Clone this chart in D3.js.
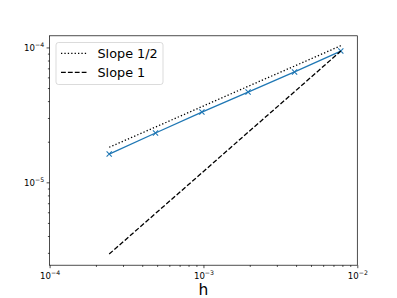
<!DOCTYPE html>
<html>
<head>
<meta charset="utf-8">
<script src="https://cdn.jsdelivr.net/npm/d3@7"></script>
<style>
  body { margin: 0; background: #fff; }
  svg { display: block; }
</style>
</head>
<body>
<div id="chart"></div>
<script>
// step sizes and errors
var hValues = [0.000244, 0.000488, 0.000977, 0.00195, 0.00391, 0.00781];
var errValues = [1.62e-5, 2.32e-5, 3.32e-5, 4.67e-5, 6.58e-5, 9.40e-5];
var slopeHalfValues = [1.82e-5, 2.57e-5, 3.64e-5, 5.15e-5, 7.28e-5, 1.03e-4];
var slopeOneValues = [2.94e-6, 5.88e-6, 1.175e-5, 2.35e-5, 4.70e-5, 9.40e-5];
var legendLabels = ["Slope 1/2", "Slope 1"];
var xMajorExps = [-4, -3, -2];
var yMajorExps = [-5, -4];

var width = 397, height = 298;
var padL = 49.6, padR = 357.3, padT = 35.8, padB = 265.2;

var svg = d3.select("#chart")
  .append("svg")
  .attr("width", width)
  .attr("height", height);

var xScale = d3.scaleLog().domain([1e-4, 1e-2]).range([padL, padR]);
var yScale = d3.scaleLog().domain([2.43e-6, 1.22e-4]).range([padB, padT]);

var tickFont = "'DejaVu Sans', sans-serif";

// minor ticks (2..9 in each decade)
function isMajor(v) {
  var e = Math.log10(v);
  return Math.abs(e - Math.round(e)) < 1e-6;
}
var xMinor = xScale.ticks().filter(function(v) { return !isMajor(v); });
var yMinor = yScale.ticks().filter(function(v) { return !isMajor(v); })
  .filter(function(v) { return v >= 2.43e-6 && v <= 1.22e-4; });

var xMajor = xMajorExps.map(function(e) { return Math.pow(10, e); });
var yMajor = yMajorExps.map(function(e) { return Math.pow(10, e); });

function styleAxis(g) {
  g.select(".domain").remove();
  g.selectAll("line").attr("stroke", "#000").attr("stroke-width", 0.7);
}

svg.append("g")
  .attr("transform", "translate(0," + padB + ")")
  .call(d3.axisBottom(xScale).tickValues(xMinor).tickSize(1.7).tickFormat(""))
  .call(styleAxis);
var xAx = svg.append("g")
  .attr("transform", "translate(0," + padB + ")")
  .call(d3.axisBottom(xScale).tickValues(xMajor).tickSize(3).tickPadding(3).tickFormat(""))
  .call(styleAxis);

svg.append("g")
  .attr("transform", "translate(" + padL + ",0)")
  .call(d3.axisLeft(yScale).tickValues(yMinor).tickSize(1.7).tickFormat(""))
  .call(styleAxis);
var yAx = svg.append("g")
  .attr("transform", "translate(" + padL + ",0)")
  .call(d3.axisLeft(yScale).tickValues(yMajor).tickSize(3).tickPadding(3).tickFormat(""))
  .call(styleAxis);

function powerLabel(text, exp) {
  text.text("")
    .attr("font-family", tickFont)
    .attr("font-size", 8.6)
    .attr("fill", "#000");
  text.append("tspan").text("10");
  text.append("tspan")
    .attr("dy", -3.8)
    .attr("font-size", 6.2)
    .text("\u2212" + Math.abs(exp));
}

xAx.selectAll(".tick").each(function(d, i) {
  var t = d3.select(this).select("text")
    .attr("y", 13.5)
    .attr("dy", null)
    .attr("text-anchor", "middle");
  powerLabel(t, xMajorExps[i]);
});
yAx.selectAll(".tick").each(function(d, i) {
  var t = d3.select(this).select("text")
    .attr("x", -5.5)
    .attr("dy", "0.35em")
    .attr("text-anchor", "end");
  powerLabel(t, yMajorExps[i]);
});

// frame
svg.append("rect")
  .attr("x", padL).attr("y", padT)
  .attr("width", padR - padL).attr("height", padB - padT)
  .attr("fill", "none")
  .attr("stroke", "#000")
  .attr("stroke-width", 0.7);

var line = d3.line()
  .x(function(d) { return xScale(d[0]); })
  .y(function(d) { return yScale(d[1]); });

var plot = svg.append("g");

plot.append("path")
  .datum(d3.zip(hValues, errValues))
  .attr("d", line)
  .attr("fill", "none")
  .attr("stroke", "#1f77b4")
  .attr("stroke-width", 1.3);

plot.selectAll(".mark")
  .data(d3.zip(hValues, errValues))
  .join("path")
  .attr("class", "mark")
  .attr("transform", function(d) { return "translate(" + xScale(d[0]) + "," + yScale(d[1]) + ")"; })
  .attr("d", "M-2.6,-2.6L2.6,2.6M-2.6,2.6L2.6,-2.6")
  .attr("stroke", "#1f77b4")
  .attr("stroke-width", 1.1)
  .attr("fill", "none");

plot.append("path")
  .datum(d3.zip(hValues, slopeHalfValues))
  .attr("d", line)
  .attr("fill", "none")
  .attr("stroke", "#000")
  .attr("stroke-width", 1.3)
  .attr("stroke-dasharray", "1.3,2.1");

plot.append("path")
  .datum(d3.zip(hValues, slopeOneValues))
  .attr("d", line)
  .attr("fill", "none")
  .attr("stroke", "#000")
  .attr("stroke-width", 1.3)
  .attr("stroke-dasharray", "4.8,2.1");

// legend
var legend = svg.append("g");
legend.append("rect")
  .attr("x", 56).attr("y", 42.5)
  .attr("width", 107).attr("height", 42)
  .attr("rx", 2.5)
  .attr("fill", "#fff").attr("fill-opacity", 0.8)
  .attr("stroke", "#cccccc").attr("stroke-width", 0.7);

var dashes = ["1.3,2.1", "4.8,2.1"];
legendLabels.forEach(function(lbl, i) {
  var yy = 53.3 + i * 19;
  legend.append("line")
    .attr("x1", 61).attr("x2", 88)
    .attr("y1", yy).attr("y2", yy)
    .attr("stroke", "#000")
    .attr("stroke-width", 1.3)
    .attr("stroke-dasharray", dashes[i]);
  legend.append("text")
    .attr("x", 97.5).attr("y", yy)
    .attr("dy", "0.36em")
    .attr("font-family", tickFont)
    .attr("font-size", 12.8)
    .attr("fill", "#000")
    .text(lbl);
});

// x label
svg.append("text")
  .attr("x", (padL + padR) / 2)
  .attr("y", 295)
  .attr("text-anchor", "middle")
  .attr("font-family", tickFont)
  .attr("font-size", 15.5)
  .attr("fill", "#000")
  .text("h");
</script>
</body>
</html>
